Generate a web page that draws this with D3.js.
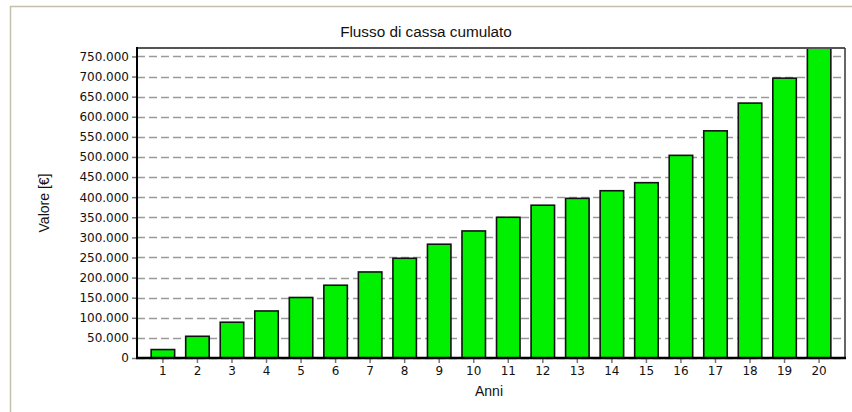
<!DOCTYPE html>
<html>
<head>
<meta charset="utf-8">
<script src="https://cdn.jsdelivr.net/npm/d3@7"></script>
<style>
  body { margin: 0; background: #fff; }
  text { font-family: "DejaVu Sans", Verdana, sans-serif; fill: #111; }
</style>
</head>
<body>
<script>
// valori
const anni = ["1","2","3","4","5","6","7","8","9","10","11","12","13","14","15","16","17","18","19","20"];
const flusso = [21000, 54000, 89000, 117000, 150500, 181000, 214000, 248000, 283000, 316000,
                350000, 380000, 397000, 416000, 436000, 504000, 565000, 634000, 696000, 771000];
const yTicks = [0, 50000, 100000, 150000, 200000, 250000, 300000, 350000, 400000,
                450000, 500000, 550000, 600000, 650000, 700000, 750000];

const w = 852, h = 412;
const margin = { top: 48, right: 7, bottom: 54, left: 137 };

const svg = d3.select("body").append("svg")
  .attr("width", w)
  .attr("height", h);

// cornice esterna
svg.append("rect")
  .attr("x", 10.5).attr("y", 6.5)
  .attr("width", w + 20).attr("height", h + 20)
  .attr("fill", "#fff")
  .attr("stroke", "#c4c0ae")
  .attr("stroke-width", 1.5);

const it = d3.formatLocale({ decimal: ",", thousands: ".", grouping: [3], currency: ["", "€"] });
const fmt = it.format(",d");

const x = d3.scaleBand().domain(anni).range([margin.left, w - margin.right])
        .paddingInner(0.32).paddingOuter(0.41),
      y = d3.scaleLinear().domain([0, d3.max(flusso)]).range([h - margin.bottom, margin.top]);

// griglia tratteggiata
svg.append("g").selectAll("line")
  .data(yTicks)
  .enter().append("line")
  .attr("x1", margin.left).attr("x2", w - margin.right)
  .attr("y1", d => Math.round(y(d)) + 0.5).attr("y2", d => Math.round(y(d)) + 0.5)
  .attr("stroke", "#9a9a9a")
  .attr("stroke-width", 1.5)
  .attr("stroke-dasharray", "8,4");

// asse y
const yAxis = svg.append("g").attr("transform", `translate(${margin.left},0)`)
  .call(d3.axisLeft(y).tickValues(yTicks).tickFormat(fmt).tickSize(5).tickPadding(3));
yAxis.select(".domain").remove();
yAxis.selectAll(".tick line").attr("stroke", "#777").attr("stroke-width", 1.5);
yAxis.selectAll(".tick text").style("font-size", "12px").attr("fill", "#111");

// barre
svg.append("g").selectAll("rect")
  .data(flusso)
  .enter().append("rect")
  .attr("x", (d, i) => x(anni[i]))
  .attr("y", d => y(d))
  .attr("width", x.bandwidth())
  .attr("height", d => y(0) - y(d))
  .attr("fill", "#00f000")
  .attr("stroke", "#111")
  .attr("stroke-width", 1.6);

// asse x
const xAxis = svg.append("g").attr("transform", `translate(0,${h - margin.bottom})`)
  .call(d3.axisBottom(x).tickSize(5).tickPadding(3));
xAxis.select(".domain").remove();
xAxis.selectAll(".tick line").attr("stroke", "#777").attr("stroke-width", 1.5);
xAxis.selectAll(".tick text").style("font-size", "12px").attr("fill", "#111");

// bordo area grafico
svg.append("line").attr("x1", margin.left - 1).attr("x2", w - margin.right)
  .attr("y1", margin.top).attr("y2", margin.top).attr("stroke", "#555").attr("stroke-width", 2);
svg.append("line").attr("x1", w - margin.right).attr("x2", w - margin.right)
  .attr("y1", margin.top).attr("y2", h - margin.bottom).attr("stroke", "#333").attr("stroke-width", 1.5);
svg.append("line").attr("x1", margin.left).attr("x2", margin.left)
  .attr("y1", margin.top - 1).attr("y2", h - margin.bottom + 1).attr("stroke", "#000").attr("stroke-width", 2);
svg.append("line").attr("x1", margin.left - 1).attr("x2", w - margin.right + 1)
  .attr("y1", h - margin.bottom).attr("y2", h - margin.bottom).attr("stroke", "#000").attr("stroke-width", 2.5);

// titoli
svg.append("text").attr("x", w / 2).attr("y", 37).attr("text-anchor", "middle")
  .style("font-family", "'Liberation Sans', Arial, sans-serif")
  .style("font-size", "15.3px").text("Flusso di cassa cumulato");
svg.append("text").attr("x", 489).attr("y", 396).attr("text-anchor", "middle")
  .style("font-family", "'Liberation Sans', Arial, sans-serif")
  .style("font-size", "14px").text("Anni");
svg.append("text").attr("transform", "rotate(-90)")
  .attr("x", -(margin.top + h - margin.bottom) / 2).attr("y", 49)
  .attr("text-anchor", "middle")
  .style("font-family", "'Liberation Sans', Arial, sans-serif")
  .style("font-size", "14px").text("Valore [€]");
</script>
</body>
</html>
